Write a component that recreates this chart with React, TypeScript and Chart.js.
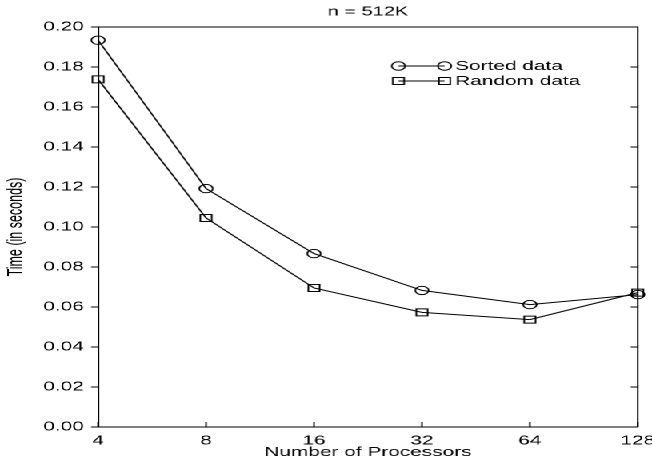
import React, { useEffect, useRef } from "react";
import { Chart, registerables } from "chart.js";

Chart.register(...registerables);

// ---- data ----
const processors = ["4", "8", "16", "32", "64", "128"];
const sortedData = [0.1934, 0.1192, 0.0867, 0.0683, 0.0612, 0.0662];
const randomData = [0.1738, 0.1045, 0.0695, 0.0573, 0.0537, 0.0672];
const yTickValues = [0, 0.02, 0.04, 0.06, 0.08, 0.1, 0.12, 0.14, 0.16, 0.18, 0.2];
const seriesLabels = ["Sorted data", "Random data"];
const chartTitle = "n = 512K";
const xTitle = "Number of Processors";
const yTitle = "Time (in seconds)";

// ---- layout ----
const STRETCH = 1.6;
const W = 652 / STRETCH;
const H = 461;
const FONT = "'Liberation Sans', Arial, Helvetica, sans-serif";

const framePlugin = {
  id: "frameAndLegend",
  afterDraw(chart: any) {
    const { ctx, chartArea } = chart;
    const { left, right, top, bottom } = chartArea;
    ctx.save();
    ctx.strokeStyle = "#000";
    ctx.lineWidth = 1;
    // top & right frame
    ctx.beginPath();
    ctx.moveTo(left, top);
    ctx.lineTo(right, top);
    ctx.lineTo(right, bottom);
    ctx.stroke();
    // right inward ticks
    const yScale = chart.scales.y;
    const xScale = chart.scales.x;
    ctx.beginPath();
    yTickValues.forEach((v) => {
      const py = yScale.getPixelForValue(v);
      ctx.moveTo(right - 4.4, py);
      ctx.lineTo(right, py);
    });
    // bottom inward ticks
    processors.forEach((_, i) => {
      const px = xScale.getPixelForValue(i);
      ctx.moveTo(px, bottom);
      ctx.lineTo(px, bottom - 5);
    });
    ctx.stroke();

    // title
    ctx.fillStyle = "#000";
    ctx.font = `12.5px ${FONT}`;
    ctx.textAlign = "center";
    ctx.textBaseline = "middle";
    ctx.fillText(chartTitle, (left + right) / 2, 12);

    // legend
    const rows = [66, 81];
    const x1 = right - 149.4;
    const x2 = right - 120.6;
    const tx = right - 114;
    chart.data.datasets.forEach((ds: any, i: number) => {
      const y = rows[i];
      ctx.beginPath();
      ctx.moveTo(x1, y);
      ctx.lineTo(x2, y);
      ctx.stroke();
      [x1, x2].forEach((mx) => {
        ctx.beginPath();
        if (ds.pointStyle === "circle") {
          ctx.arc(mx, y, ds.pointRadius, 0, Math.PI * 2);
        } else {
          const s = Math.SQRT1_2 * ds.pointRadius;
          ctx.rect(mx - s, y - s, 2 * s, 2 * s);
        }
        ctx.stroke();
      });
      ctx.font = `13px ${FONT}`;
      ctx.textAlign = "left";
      ctx.textBaseline = "middle";
      ctx.fillText(ds.label, tx, y + 0.5);
    });
    ctx.restore();
  },
};

export default function App() {
  const canvasRef = useRef<HTMLCanvasElement | null>(null);

  useEffect(() => {
    document.body.style.margin = "0";
    const canvas = canvasRef.current;
    if (!canvas) return;
    const chart = new Chart(canvas, {
      type: "line",
      data: {
        labels: processors,
        datasets: [
          {
            label: seriesLabels[0],
            data: sortedData,
            borderColor: "#000",
            borderWidth: 1,
            backgroundColor: "transparent",
            pointStyle: "circle",
            pointRadius: 4.2,
            pointBorderWidth: 1,
            pointBorderColor: "#000",
            pointBackgroundColor: "transparent",
            tension: 0,
            clip: false as any,
          },
          {
            label: seriesLabels[1],
            data: randomData,
            borderColor: "#000",
            borderWidth: 1,
            backgroundColor: "transparent",
            pointStyle: "rect",
            pointRadius: 5,
            pointBorderWidth: 1,
            pointBorderColor: "#000",
            pointBackgroundColor: "transparent",
            tension: 0,
            clip: false as any,
          },
        ],
      },
      options: {
        animation: false,
        responsive: true,
        maintainAspectRatio: false,
        devicePixelRatio: 2,
        layout: {
          padding: { top: 27, right: W - 637 / STRETCH, left: 0, bottom: 0 },
        },
        plugins: {
          legend: { display: false },
          title: { display: false },
          tooltip: { enabled: false },
        },
        scales: {
          x: {
            type: "category",
            offset: false,
            grid: { display: true, drawOnChartArea: false, drawTicks: false },
            border: { display: true, color: "#000", width: 1 },
            ticks: {
              color: "#000",
              font: { family: FONT, size: 13 },
              padding: 6,
              maxRotation: 0,
              autoSkip: false,
            },
            title: {
              display: true,
              text: xTitle,
              color: "#000",
              font: { family: FONT, size: 13 },
              padding: { top: 0, bottom: 1 },
            },
            afterFit: (s: any) => {
              s.height = 34;
              s.paddingLeft = 0;
              s.paddingRight = 0;
            },
          },
          y: {
            type: "linear",
            min: 0,
            max: 0.2,
            grid: {
              display: true,
              drawOnChartArea: false,
              drawTicks: true,
              tickLength: 4.4,
              color: "#000",
            },
            border: { display: true, color: "#000", width: 1 },
            afterBuildTicks: (s: any) => {
              s.ticks = yTickValues.map((v) => ({ value: v }));
            },
            ticks: {
              color: "#000",
              font: { family: FONT, size: 13 },
              padding: 4.5,
              callback: (v: any) => Number(v).toFixed(2),
            },
            title: {
              display: true,
              text: yTitle,
              color: "#000",
              font: { family: FONT, size: 12.5 },
              padding: { top: 2.5, bottom: 0 },
            },
            afterFit: (s: any) => {
              s.width = 98 / STRETCH;
              s.paddingTop = 0;
              s.paddingBottom = 0;
            },
          },
        },
      },
      plugins: [framePlugin],
    });
    return () => chart.destroy();
  }, []);

  return (
    <div
      style={{
        position: "absolute",
        left: 0,
        top: 0,
        width: W,
        height: H,
        transform: `scaleX(${STRETCH})`,
        transformOrigin: "0 0",
        background: "#fff",
      }}
    >
      <canvas ref={canvasRef} />
    </div>
  );
}
